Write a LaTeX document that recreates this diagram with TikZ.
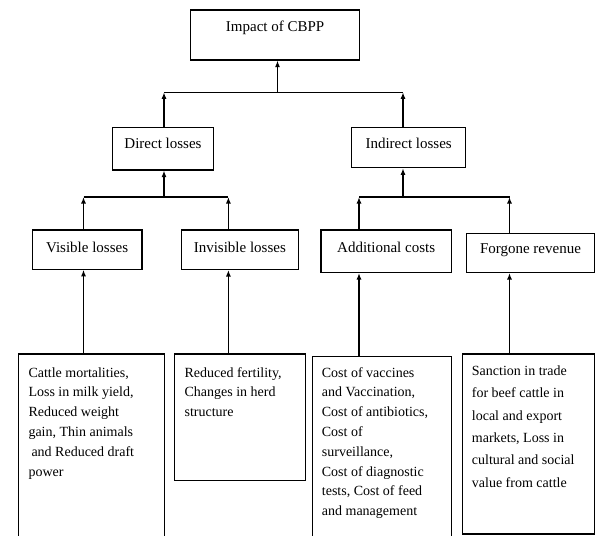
\documentclass[tikz,border=0pt]{standalone}
\usepackage{fontspec}
\setmainfont{Liberation Serif}
\usetikzlibrary{arrows.meta}

\begin{document}
\begin{tikzpicture}[x=1pt, y=-1pt]
	\tikzset{comp/.style={
		rectangle, draw=black, line width=1.3pt, inner sep=0pt, anchor=north west
	}}
	\tikzset{head/.style={
		comp, align=center, font=\fontsize{15}{18}\selectfont
	}}
	\tikzset{detail/.style={
		comp, minimum width=#1
	}}
	\tikzset{caption/.style={
		anchor=north west, inner sep=0pt, align=left, font=\fontsize{14}{19.8}\selectfont
	}}
	\tikzset{conn/.style={
		line width=1.3pt, -{Latex[length=6.5pt, width=5pt]}
	}}
	\tikzset{bar/.style={
		line width=1.3pt
	}}

	\useasboundingbox (0,0) rectangle (595,536);

	% Arrow columns
	\coordinate (c_imp) at (277.5,0);
	\coordinate (c_dir) at (164,0);
	\coordinate (c_ind) at (403,0);
	\coordinate (c_vis) at (83.5,0);
	\coordinate (c_inv) at (228.4,0);
	\coordinate (c_add) at (359,0);
	\coordinate (c_for) at (509.5,0);
	% Bars
	\coordinate (bar_top) at (0,92.3);
	\coordinate (bar_mid) at (0,197);

	% Top
	\node (Impact) [head, minimum width=169pt, text height=22pt, text depth=28pt] at (190,9.3) {Impact of CBPP};

	% Second level
	\node (Direct) [head, minimum width=100.7pt, text height=21.3pt, text depth=21pt] at (112,127) {Direct losses};
	\node (Indirect) [head, minimum width=114pt, text height=21.3pt, text depth=18.7pt] at (351,127) {Indirect losses};

	% Third level
	\node (Visible) [head, minimum width=109.6pt, text height=22.4pt, text depth=16.8pt] at (31.7,229.3) {Visible losses};
	\node (Invisible) [head, minimum width=117pt, text height=22.4pt, text depth=17pt] at (180.7,229.3) {Invisible losses};
	\node (Additional) [head, minimum width=130.5pt, text height=22.4pt, text depth=20pt] at (320.3,229.3) {Additional costs};
	\node (Forgone) [head, minimum width=128.3pt, text height=20.6pt, text depth=18.4pt] at (465.7,232.7) {Forgone revenue};

	% Details
	\node (Cattle) [detail=146.2pt, minimum height=220pt] at (17.8,353.3) {}
		node (Cattle_txt) [caption] at ([shift={(10.5,13.8)}] Cattle.north west)
			{Cattle mortalities,\\ Loss in milk yield,\\ Reduced weight\\ gain, Thin animals\\ \hspace{3pt}and Reduced draft\\ power}
	;
	\node (Fertility) [detail=130.7pt, minimum height=126.7pt] at (174,353.3) {}
		node (Fertility_txt) [caption] at ([shift={(10.4,13.8)}] Fertility.north west)
			{Reduced fertility,\\ Changes in herd\\ structure}
	;
	\node (Costs) [detail=138.5pt, minimum height=220pt] at (312,355.5) {}
		node (Costs_txt) [caption] at ([shift={(9.7,11.6)}] Costs.north west)
			{Cost of vaccines\\ and Vaccination,\\ Cost of antibiotics,\\ Cost of\\ surveillance,\\ Cost of diagnostic\\ tests, Cost of feed\\ and management}
	;
	\node (Sanction) [detail=132.5pt, minimum height=180pt] at (461.5,353.3) {}
		node (Sanction_txt) [caption, font=\fontsize{14}{22.4}\selectfont] at ([shift={(10.2,12)}] Sanction.north west)
			{Sanction in trade\\ for beef cattle in\\ local and export\\ markets, Loss in\\ cultural and social\\ value from cattle}
	;

	% Details -> third level
	\draw[conn] (Cattle.north -| c_vis) -- (Visible.south -| c_vis);
	\draw[conn] (Fertility.north -| c_inv) -- (Invisible.south -| c_inv);
	\draw[conn] (Costs.north -| c_add) -- (Additional.south -| c_add);
	\draw[conn] (Sanction.north -| c_for) -- (Forgone.south -| c_for);

	% Third level -> second level
	\draw[conn] (Visible.north -| c_vis) -- (c_vis |- bar_mid);
	\draw[conn] (Invisible.north -| c_inv) -- (c_inv |- bar_mid);
	\draw[bar] (c_vis |- bar_mid) -- (c_inv |- bar_mid);
	\draw[conn] (c_dir |- bar_mid) -- (Direct.south -| c_dir);

	\draw[conn] (Additional.north -| c_add) -- (c_add |- bar_mid);
	\draw[conn] (Forgone.north -| c_for) -- (c_for |- bar_mid);
	\draw[bar] (c_add |- bar_mid) -- (c_for |- bar_mid);
	\draw[conn] (c_ind |- bar_mid) -- (Indirect.south -| c_ind);

	% Second level -> top
	\draw[conn] (Direct.north -| c_dir) -- (c_dir |- bar_top);
	\draw[conn] (Indirect.north -| c_ind) -- (c_ind |- bar_top);
	\draw[bar] (c_dir |- bar_top) -- (c_ind |- bar_top);
	\draw[conn] (c_imp |- bar_top) -- (Impact.south -| c_imp);
\end{tikzpicture}
\end{document}
